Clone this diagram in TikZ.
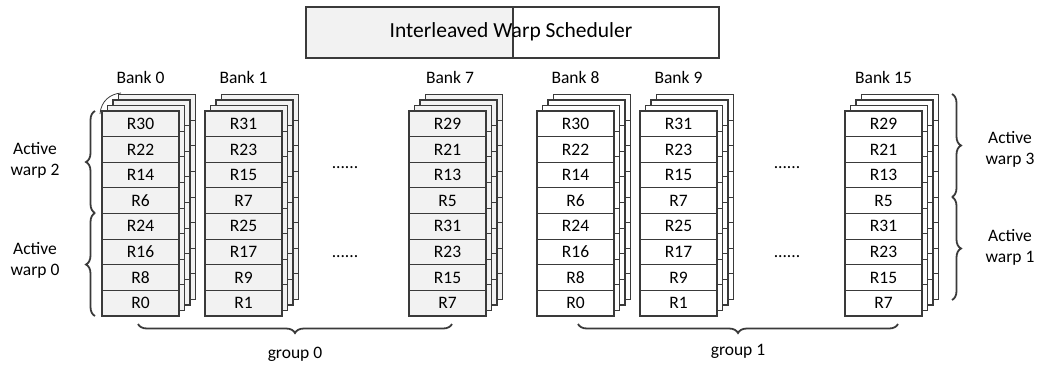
\documentclass[tikz,border=0pt]{standalone}
\usepackage{fontspec}
\setmainfont{Carlito}
\usetikzlibrary{decorations.pathreplacing,calc}
\definecolor{ln}{HTML}{3A3A3A}
\definecolor{gfill}{HTML}{F2F2F2}
\tikzset{
  txt/.style={font=\fontsize{17.5}{21}\selectfont, inner sep=0pt, align=center, text=black},
  cell/.style={txt, draw=ln, line width=0.8pt, minimum width=77pt, minimum height=25.625pt, anchor=north west, outer sep=0pt},
  outer/.style={draw=ln, line width=1.8pt},
  sep/.style={draw=ln, line width=0.8pt},
  mybrace/.style={draw=ln, line width=1.8pt, decorate, decoration={brace, amplitude=9pt}},
}
\newcommand\regstack[4]{%
  \foreach \k in {3,2,1}{%
    \pgfmathsetmacro\dd{5.5*\k}%
    \filldraw[fill=#2, outer] ({#1+\dd},{111-\dd}) rectangle ({#1+77+\dd},{316-\dd});
    \foreach \j in {1,...,7}{%
      \draw[sep] ({#1+\dd},{111-\dd+25.625*\j}) -- ({#1+77+\dd},{111-\dd+25.625*\j});
    }
  }
  \foreach \lab [count=\i from 0] in {#4}{%
    \node[cell, fill=#2] (#3r\i) at (#1,{111+25.625*\i}) {\lab};
  }
  \draw[outer] (#1,111) rectangle ({#1+77},316);
}
\begin{document}
\begin{tikzpicture}[x=1pt,y=-1pt]
\useasboundingbox (0,0) rectangle (1038,365);
% scheduler
\node[draw=ln, line width=1.8pt, fill=gfill, minimum width=207pt, minimum height=51pt, anchor=north west, inner sep=0pt] (schL) at (305,6) {};
\node[draw=ln, line width=1.8pt, fill=white, minimum width=206pt, minimum height=51pt, anchor=north west, inner sep=0pt] (schR) at (512,6) {};
\node[txt, font=\fontsize{21.5}{25}\selectfont] (sched) at (511,31.5) {Interleaved Warp Scheduler};
% stacks
\regstack{102}{gfill}{bA}{R30,R22,R14,R6,R24,R16,R8,R0}
\regstack{205}{gfill}{bB}{R31,R23,R15,R7,R25,R17,R9,R1}
\regstack{409}{gfill}{bC}{R29,R21,R13,R5,R31,R23,R15,R7}
\regstack{537}{white}{bD}{R30,R22,R14,R6,R24,R16,R8,R0}
\regstack{640}{white}{bE}{R31,R23,R15,R7,R25,R17,R9,R1}
\regstack{845}{white}{bF}{R29,R21,R13,R5,R31,R23,R15,R7}
% bank labels
\node[txt] (l0) at (140.5,77) {Bank 0};
\node[txt] (l1) at (243.5,77) {Bank 1};
\node[txt] (l7) at (450,77) {Bank 7};
\node[txt] (l8) at (575.5,77) {Bank 8};
\node[txt] (l9) at (678.5,77) {Bank 9};
\node[txt] (l15) at (883.5,77) {Bank 15};
% dots
\node[txt] (d1) at (345,168) {......};
\node[txt] (d2) at (345,257) {......};
\node[txt] (d3) at (787,168) {......};
\node[txt] (d4) at (787,257) {......};
% small arc
\draw[ln, line width=0.8pt] (100,114) .. controls (101,101) and (110,94) .. (121,93);
% left braces
\coordinate (lb0) at (95,316);
\coordinate (lb1) at (95,213);
\coordinate (lb2) at (95,111);
\draw[mybrace] (lb1) -- (lb2);
\draw[mybrace] (lb0) -- (lb1);
\node[txt] (aw2) at (35,160) {Active\\warp 2};
\node[txt] (aw0) at (35,260) {Active\\warp 0};
% right braces
\coordinate (rb0) at (952,94);
\coordinate (rb1) at (952,197);
\coordinate (rb2) at (952,300);
\draw[mybrace] (rb0) -- (rb1);
\draw[mybrace] (rb1) -- (rb2);
\node[txt] (aw3) at (1010,149) {Active\\warp 3};
\node[txt] (aw1) at (1010,247) {Active\\warp 1};
% bottom braces
\coordinate (g0a) at (138,324);
\coordinate (g0b) at (452,324);
\coordinate (g1a) at (578,324);
\coordinate (g1b) at (898,324);
\draw[mybrace] (g0b) -- (g0a);
\draw[mybrace] (g1b) -- (g1a);
\node[txt] (g0) at (295,354) {group 0};
\node[txt] (g1) at (738,351) {group 1};
\end{tikzpicture}
\end{document}
